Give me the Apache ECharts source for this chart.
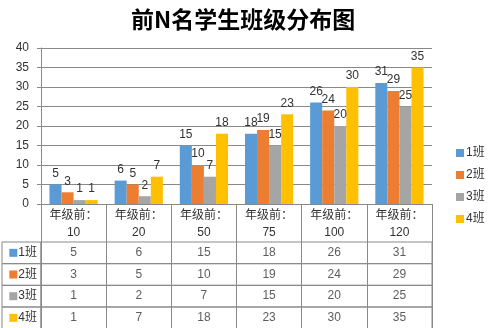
<!DOCTYPE html>
<html><head><meta charset="utf-8">
<script src="https://cdn.jsdelivr.net/npm/echarts@6/dist/echarts.min.js"></script>
<style>html,body{margin:0;padding:0;background:#fff}#c{width:489px;height:328px}</style>
</head><body><div id="c"></div>
<script>
const chartTitle = '前N名学生班级分布图';
const categories = ['10', '20', '50', '75', '100', '120'];
const categoryPrefix = '年级前：';
const seriesNames = ['1班', '2班', '3班', '4班'];
const class1 = [5, 6, 15, 18, 26, 31];
const class2 = [3, 5, 10, 19, 24, 29];
const class3 = [1, 2, 7, 15, 20, 25];
const class4 = [1, 7, 18, 23, 30, 35];
const yMin = 0, yMax = 40, yInterval = 5;

const seriesValues = [class1, class2, class3, class4];
const colors = ['#5B9BD5', '#ED7D31', '#A5A5A5', '#FFC000'];
const lineColor = '#898989';
const textColor = '#333333';
const fontFamily = "'Liberation Sans', 'Noto Sans CJK SC', sans-serif";

const plotLeft = 41, plotWidth = 391, plotTop = 48, plotHeight = 156;
const headerBottom = 242, rowH = 21.67, keyLeft = 2;

const grids = [{ left: plotLeft, top: plotTop, width: plotWidth, height: plotHeight, containLabel: false, outerBoundsMode: 'none' }];
const xAxes = [{
  type: 'category', gridIndex: 0, data: categories,
  axisLine: { show: true, lineStyle: { color: lineColor, width: 1 } },
  axisTick: { show: true, interval: 0, length: headerBottom - (plotTop + plotHeight), lineStyle: { color: lineColor } },
  axisLabel: { interval: 0, margin: 3, lineHeight: 17, fontSize: 12, color: textColor, fontFamily,
    formatter: v => categoryPrefix + '\n' + v },
  splitLine: { show: false }
}];
const yAxes = [{
  type: 'value', gridIndex: 0, min: yMin, max: yMax, interval: yInterval,
  axisLine: { show: true, lineStyle: { color: lineColor } },
  axisTick: { show: true, length: 4, lineStyle: { color: lineColor } },
  axisLabel: { margin: 12, fontSize: 12, color: textColor, fontFamily },
  splitLine: { show: true, lineStyle: { color: lineColor, width: 1 } }
}];
const series = [];

seriesNames.forEach((name, i) => {
  series.push({
    type: 'bar', name, xAxisIndex: 0, yAxisIndex: 0, data: seriesValues[i],
    itemStyle: { color: colors[i] }, barGap: '0%', barCategoryGap: '26%',
    label: { show: true, position: 'top', distance: 5, fontSize: 12, color: textColor, fontFamily }
  });
});

// data table rows
seriesNames.forEach((name, i) => {
  const top = headerBottom + rowH * i;
  const gv = grids.length;
  grids.push({ left: plotLeft, top, width: plotWidth, height: rowH, show: true,
    borderColor: lineColor, borderWidth: 1, backgroundColor: 'transparent', containLabel: false, outerBoundsMode: 'none' });
  xAxes.push({ type: 'category', gridIndex: gv, data: categories,
    axisLine: { show: false }, axisTick: { show: false }, axisLabel: { show: false },
    splitLine: { show: true, interval: 0, lineStyle: { color: lineColor, width: 1 } } });
  yAxes.push({ type: 'category', gridIndex: gv, data: [name],
    axisLine: { show: false }, axisTick: { show: false },
    axisLabel: { margin: 4, fontSize: 12, color: textColor, fontFamily,
      formatter: v => '{sq|}{t|' + v + '}',
      rich: { sq: { width: 8, height: 8, backgroundColor: colors[i] }, t: { fontSize: 12, color: textColor, fontFamily, padding: [0, 0, 0, 1] } } } });
  series.push({ type: 'scatter', name: 'table-' + name, xAxisIndex: gv, yAxisIndex: gv,
    data: seriesValues[i].map((v, j) => [j, 0, v]), symbolSize: 1, silent: true,
    itemStyle: { color: 'rgba(0,0,0,0)' },
    label: { show: true, position: 'inside', fontSize: 12, color: textColor, fontFamily, formatter: p => String(p.value[2]) } });
  // key column cell
  const gk = grids.length;
  grids.push({ left: keyLeft, top, width: plotLeft - keyLeft, height: rowH, show: true,
    borderColor: lineColor, borderWidth: 1, backgroundColor: 'transparent', containLabel: false, outerBoundsMode: 'none' });
  xAxes.push({ type: 'value', gridIndex: gk, show: false });
  yAxes.push({ type: 'value', gridIndex: gk, show: false });
});

const chart = echarts.init(document.getElementById('c'), null, { renderer: 'canvas' });
chart.setOption({
  animation: false,
  backgroundColor: '#ffffff',
  color: colors,
  title: { text: chartTitle, left: 126, top: 3,
    textStyle: { fontSize: 23, fontWeight: 'bold', color: '#000', fontFamily: "'Noto Sans CJK SC', sans-serif" } },
  legend: { data: seriesNames, orient: 'vertical', left: 451, top: 142, icon: 'rect',
    itemWidth: 8, itemHeight: 8, itemGap: 10, selectedMode: false,
    textStyle: { fontSize: 12, color: textColor, fontFamily, padding: [0, 0, 0, -3] } },
  grid: grids, xAxis: xAxes, yAxis: yAxes, series
});
</script></body></html>
